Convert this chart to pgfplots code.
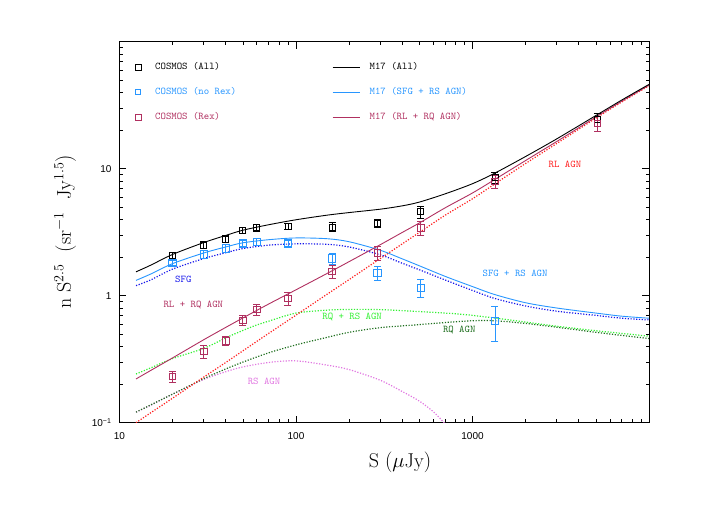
\documentclass[border=0pt]{standalone}
\usepackage{fontspec}
\usepackage{pgfplots}
\pgfplotsset{compat=1.18}
\newfontfamily\ticksf{Liberation Sans}
\newcommand\legfont{\fontsize{10.3}{12}\selectfont\ttfamily}
\definecolor{cblack}{RGB}{0,0,0}
\definecolor{clblue}{RGB}{40,150,255}
\definecolor{cdblue}{RGB}{20,20,235}
\definecolor{cpurp}{RGB}{176,48,96}
\definecolor{cred}{RGB}{255,30,30}
\definecolor{clgreen}{RGB}{50,240,50}
\definecolor{cdgreen}{RGB}{30,110,30}
\definecolor{cpink}{RGB}{225,120,225}
\tikzset{mydot/.style={line width=1.2pt, dash pattern=on 1.2pt off 1.6pt}}
\pgfplotsset{
 markleg/.style={legend image code/.code={\path[draw=none,fill=none] (-4pt,0pt) -- (17pt,0pt); \draw[##1] plot coordinates {(0pt,0pt)};}},
 lineleg/.style={legend image code/.code={\draw[##1] (0pt,0pt) -- (27pt,0pt); \path[draw=none,fill=none] (37pt,0pt);}},
 mylegend/.style={legend style={draw=none, fill=none, inner sep=0pt, inner xsep=0pt, inner ysep=0pt,
   at={(axis description cs:0,1)}, anchor=north west, yshift=-20.8pt, xshift=#1,
   font=\legfont, row sep=16pt, column sep=0pt,
   nodes={inner sep=0pt, text height=7pt, text depth=2pt}, cells={anchor=west}},
   legend cell align=left},
 databar/.style={only marks, mark=square, mark options={solid, line width=0.8pt},
   error bars/.cd, y dir=both, y explicit relative,
   error bar style={line width=0.8pt},
   error mark options={rotate=90, mark size=3.5pt, line width=0.8pt}},
 curve/.style={smooth, tension=0.5},
}
\begin{document}
\begin{tikzpicture}
\begin{axis}[at={(0,0)}, anchor=south west, scale only axis,
  width=529.5pt, height=381pt,
  xmode=log, ymode=log, xmin=10, xmax=10000, ymin=0.1, ymax=100,
  xtick={10,100,1000,10000}, xticklabels={10,100,1000,},
  ytick={0.1,1,10,100}, yticklabels={10\textsuperscript{−1},1,10,},
  /pgf/number format/assume math mode=true,
  tick label style={font=\ticksf\fontsize{10}{12}\selectfont},
  xticklabel style={yshift=-6pt},
  yticklabel style={xshift=-4.5pt},
  major tick length=7pt, minor tick length=3.5pt,
  every tick/.style={black, line width=0.7pt},
  axis line style={line width=0.9pt},
  xtick pos=both, ytick pos=both,
  xlabel={$\mathrm{S\ (}\mu\mathrm{Jy)}$},
  ylabel={$\mathrm{n\ S^{2.5}\ \ (sr^{-1}\ \ Jy^{1.5})}$},
  every axis x label/.style={at={(axis description cs:0.5297,0)}, anchor=center, yshift=-39.5pt, font=\fontsize{20}{24}\selectfont},
  every axis y label/.style={at={(axis description cs:-0.1029,0.5005)}, anchor=center, rotate=90, font=\fontsize{20}{24}\selectfont},
  mylegend=14.5pt,
  clip=true,
]
\addlegendimage{only marks, markleg, cblack, mark=square, mark size=3.2pt, mark options={line width=0.8pt}}
\addlegendentry{\textcolor{cblack}{COSMOS (All)}}
\addlegendimage{only marks, markleg, clblue, mark=square, mark size=2.4pt, mark options={line width=0.8pt}}
\addlegendentry{\textcolor{clblue}{COSMOS (no Rex)}}
\addlegendimage{only marks, markleg, cpurp, mark=square, mark size=3.2pt, mark options={line width=0.8pt}}
\addlegendentry{\textcolor{cpurp}{COSMOS (Rex)}}

% RS AGN
\addplot[cpink, mydot, curve, forget plot] coordinates {
(12.4,0.121) (15,0.137) (20,0.168) (30,0.219) (40,0.252) (50,0.275) (70,0.298) (100,0.307)
(150,0.284) (200,0.262) (300,0.216) (400,0.176) (500,0.148) (600,0.122) (690,0.1) (720,0.092)};
% RQ AGN
\addplot[cdgreen, mydot, curve, forget plot] coordinates {
(12.4,0.121) (15,0.138) (20,0.168) (30,0.222) (40,0.265) (50,0.300) (70,0.355) (100,0.41)
(150,0.47) (200,0.515) (300,0.56) (500,0.592) (700,0.615) (1000,0.635) (1340,0.635)
(2000,0.605) (3000,0.565) (5000,0.515) (7000,0.487) (10000,0.46)};
% RQ + RS AGN
\addplot[clgreen, mydot, curve, forget plot] coordinates {
(12.4,0.242) (15,0.27) (20,0.32) (30,0.385) (42,0.48) (57,0.573) (70,0.63) (100,0.73)
(150,0.77) (200,0.78) (300,0.777) (500,0.75) (850,0.716) (1340,0.667) (2000,0.62)
(3000,0.575) (5000,0.53) (7000,0.505) (10000,0.48)};
% RL AGN
\addplot[cred, mydot, curve, forget plot] coordinates {
(12.4,0.1) (15,0.1195) (20,0.156) (30,0.2285) (40,0.298) (50,0.368) (70,0.505) (100,0.703)
(150,1.027) (200,1.34) (300,1.96) (400,2.56) (500,3.15) (700,4.3) (1000,5.8) (1340,7.6)
(2000,11.0) (3000,15.8) (5000,25) (7000,33.5) (10000,45)};
% SFG
\addplot[cdblue, mydot, curve, forget plot] coordinates {
(12.4,1.20) (15,1.33) (20,1.62) (30,1.96) (40,2.18) (50,2.35) (70,2.50) (100,2.56)
(150,2.54) (200,2.42) (300,2.10) (400,1.80) (500,1.60) (700,1.33) (1000,1.10) (1340,0.95)
(2000,0.83) (3000,0.755) (5000,0.70) (7000,0.665) (10000,0.645)};
% SFG + RS AGN
\addplot[clblue, line width=0.9pt, curve, forget plot] coordinates {
(12.4,1.32) (15,1.48) (20,1.79) (30,2.17) (40,2.42) (50,2.61) (70,2.76) (100,2.85)
(150,2.81) (200,2.66) (300,2.28) (400,1.95) (500,1.72) (700,1.42) (1000,1.18) (1340,1.02)
(2000,0.88) (3000,0.80) (5000,0.73) (7000,0.69) (10000,0.665)};
% RL + RQ AGN
\addplot[cpurp, line width=0.9pt, curve, forget plot] coordinates {
(12.4,0.221) (15,0.2575) (20,0.324) (30,0.45) (40,0.563) (50,0.668) (70,0.86) (100,1.113)
(150,1.497) (200,1.855) (300,2.52) (400,3.15) (500,3.74) (700,4.92) (1000,6.44) (1340,8.24)
(2000,11.6) (3000,16.37) (5000,25.5) (7000,34.0) (10000,45.46)};
% All
\addplot[cblack, line width=0.9pt, curve, forget plot] coordinates {
(12.4,1.541) (15,1.7375) (20,2.114) (30,2.62) (40,2.983) (50,3.278) (70,3.62) (100,3.963)
(150,4.307) (200,4.515) (300,4.8) (400,5.1) (500,5.46) (700,6.34) (1000,7.62) (1340,9.24)
(2000,12.48) (3000,17.17) (5000,26.23) (7000,34.69) (10000,46.1)};

% data
\addplot[cblack, forget plot, mark size=3pt, databar] coordinates {
(20,2.06) +- (0,0.055) (30,2.51) +- (0,0.06) (40,2.80) +- (0,0.06) (50,3.25) +- (0,0.055)
(60,3.44) +- (0,0.06) (90,3.52) +- (0,0.06) (160,3.48) +- (0,0.085) (290,3.70) +- (0,0.075)
(510,4.57) +- (0,0.11) (1340,8.5) +- (0,0.10) (5100,24.5) +- (0,0.12)};
\addplot[clblue, forget plot, mark size=3.8pt, databar] coordinates {
(20,1.81) +- (0,0.05) (30,2.12) +- (0,0.07) (40,2.36) +- (0,0.07) (50,2.59) +- (0,0.06)
(60,2.66) +- (0,0.07) (90,2.59) +- (0,0.06) (160,1.96) +- (0,0.10) (290,1.51) +- (0,0.12)
(510,1.15) +- (0,0.16) (1340,0.634) +- (0,0.31)};
\addplot[cpurp, forget plot, mark size=3.2pt, databar] coordinates {
(20,0.231) +- (0,0.10) (30,0.363) +- (0,0.11) (40,0.44) +- (0,0.08) (50,0.64) +- (0,0.09)
(60,0.776) +- (0,0.10) (90,0.95) +- (0,0.11) (160,1.55) +- (0,0.12) (290,2.17) +- (0,0.12)
(510,3.42) +- (0,0.13) (1340,7.95) +- (0,0.12) (5100,22.8) +- (0,0.14)};

% labels
\node[font=\legfont, text=cred] at (axis cs:3340,10.8) {RL AGN};
\node[font=\legfont, text=clblue] at (axis cs:1742,1.51) {SFG + RS AGN};
\node[font=\legfont, text=cdblue] at (axis cs:23,1.34) {SFG};
\node[font=\legfont, text=cpurp] at (axis cs:26.2,0.849) {RL + RQ AGN};
\node[font=\legfont, text=clgreen] at (axis cs:208,0.679) {RQ + RS AGN};
\node[font=\legfont, text=cdgreen] at (axis cs:841,0.54) {RQ AGN};
\node[font=\legfont, text=cpink] at (axis cs:65.9,0.213) {RS AGN};
\end{axis}

\begin{axis}[at={(0,0)}, anchor=south west, scale only axis,
  width=529.5pt, height=381pt, hide axis,
  xmode=log, ymode=log, xmin=10, xmax=10000, ymin=0.1, ymax=100,
  mylegend=212.5pt]
\addplot[draw=none, forget plot] coordinates {(100,1)};
\addlegendimage{lineleg, cblack, line width=0.9pt}
\addlegendentry{\textcolor{cblack}{M17 (All)}}
\addlegendimage{lineleg, clblue, line width=0.9pt}
\addlegendentry{\textcolor{clblue}{M17 (SFG + RS AGN)}}
\addlegendimage{lineleg, cpurp, line width=0.9pt}
\addlegendentry{\textcolor{cpurp}{M17 (RL + RQ AGN)}}
\end{axis}
\path (-119.5pt,-89.3pt) rectangle (605.5pt,422.7pt);
\end{tikzpicture}
\end{document}
